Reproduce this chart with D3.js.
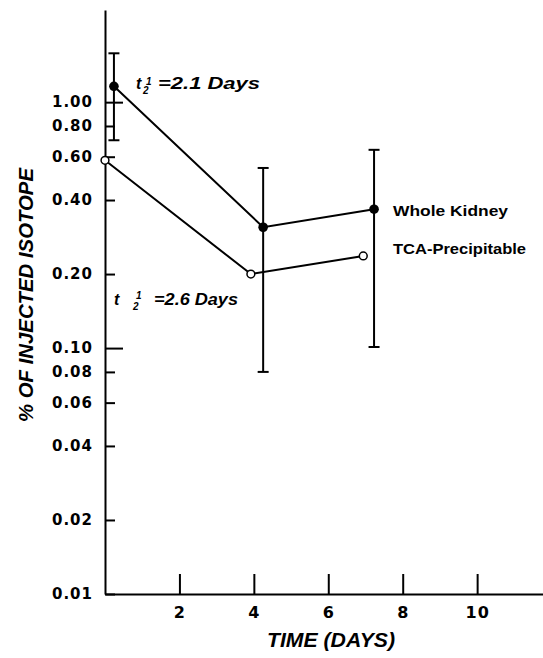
<!DOCTYPE html>
<html>
<head>
<meta charset="utf-8">
<script src="https://cdn.jsdelivr.net/npm/d3@7"></script>
<style>
  html, body { margin: 0; padding: 0; background: #fff; }
  svg { display: block; }
</style>
</head>
<body>
<svg id="chart" width="543" height="658"></svg>
<script>
// ---- data ----
const wholeKidneyDays   = [0.24, 4.25, 7.23];
const wholeKidneyValues = [1.16, 0.31, 0.367];
const wholeKidneyErrHi  = [1.58, 0.54, 0.64];
const wholeKidneyErrLo  = [0.70, 0.080, 0.101];

const tcaDays   = [0, 3.92, 6.94];
const tcaValues = [0.58, 0.20, 0.237];

const seriesNames = ["Whole Kidney", "TCA-Precipitable"];

const yTickValues = [0.01, 0.02, 0.04, 0.06, 0.08, 0.1, 0.2, 0.4, 0.6, 0.8, 1.0];
const yTickLabels = ["0.01", "0.02", "0.04", "0.06", "0.08", "0.10", "0.20", "0.40", "0.60", "0.80", "1.00"];
const xTickValues = [2, 4, 6, 8, 10];
const xTickLabels = ["2", "4", "6", "8", "10"];

const halfLives = [
  {series: "Whole Kidney", text: "=2.1 Days"},
  {series: "TCA-Precipitable", text: "=2.6 Days"}
];

const yTitle = "% OF INJECTED ISOTOPE";
const xTitle = "TIME (DAYS)";

// ---- layout ----
const svg = d3.select("#chart");
const x = d3.scaleLinear().domain([0, 11.77]).range([105, 543]);
const y = d3.scaleLog().domain([0.01, 2.37]).range([594, 10]);

const numFont = "'DejaVu Sans', sans-serif";
const txtFont = "'Liberation Sans', Arial, sans-serif";

// y axis
const yAxis = d3.axisLeft(y)
  .tickValues(yTickValues)
  .tickFormat((d, i) => yTickLabels[i])
  .tickSizeInner(-10)
  .tickSizeOuter(0)
  .tickPadding(12);
const gy = svg.append("g").attr("transform", `translate(${x(0)},0)`).call(yAxis);
gy.select(".domain").attr("stroke", "#000").attr("stroke-width", 2);
gy.selectAll(".tick line")
  .attr("stroke", "#000").attr("stroke-width", 2)
  .attr("x2", d => (d === 0.1 || d === 1.0) ? 18 : 10);
gy.selectAll(".tick text")
  .attr("fill", "#000")
  .style("font-family", numFont)
  .style("font-weight", "bold")
  .style("font-size", "15px")
  .style("letter-spacing", "1px");

// x axis
const xAxis = d3.axisBottom(x)
  .tickValues(xTickValues)
  .tickFormat((d, i) => xTickLabels[i])
  .tickSizeInner(-20)
  .tickSizeOuter(0)
  .tickPadding(13);
const gx = svg.append("g").attr("transform", `translate(0,${y(0.01)})`).call(xAxis);
gx.select(".domain").attr("stroke", "#000").attr("stroke-width", 2);
gx.selectAll(".tick line").attr("stroke", "#000").attr("stroke-width", 2);
gx.selectAll(".tick text")
  .attr("fill", "#000")
  .style("font-family", numFont)
  .style("font-weight", "bold")
  .style("font-size", "16px")
  .style("letter-spacing", "1px");

// axis titles
svg.append("text")
  .attr("transform", "rotate(-90)")
  .attr("x", -295).attr("y", 33)
  .attr("text-anchor", "middle")
  .attr("textLength", 254).attr("lengthAdjust", "spacingAndGlyphs")
  .style("font-family", txtFont).style("font-weight", "bold").style("font-style", "italic")
  .style("font-size", "21px")
  .text(yTitle);

svg.append("text")
  .attr("x", 331).attr("y", 647)
  .attr("text-anchor", "middle")
  .attr("textLength", 128).attr("lengthAdjust", "spacingAndGlyphs")
  .style("font-family", txtFont).style("font-weight", "bold").style("font-style", "italic")
  .style("font-size", "21px")
  .text(xTitle);

// lines
const wk = wholeKidneyDays.map((d, i) => ({d, v: wholeKidneyValues[i], hi: wholeKidneyErrHi[i], lo: wholeKidneyErrLo[i]}));
const tca = tcaDays.map((d, i) => ({d, v: tcaValues[i]}));
const line = d3.line().x(p => x(p.d)).y(p => y(p.v));

svg.append("path").datum(wk).attr("d", line)
  .attr("fill", "none").attr("stroke", "#000").attr("stroke-width", 2);
svg.append("path").datum(tca).attr("d", line)
  .attr("fill", "none").attr("stroke", "#000").attr("stroke-width", 2);

// error bars
const eb = svg.append("g").attr("stroke", "#000").attr("stroke-width", 2);
eb.selectAll("line.v").data(wk).join("line").attr("class", "v")
  .attr("x1", p => x(p.d)).attr("x2", p => x(p.d))
  .attr("y1", p => y(p.hi)).attr("y2", p => y(p.lo));
eb.selectAll("line.ch").data(wk).join("line").attr("class", "ch")
  .attr("x1", p => x(p.d) - 5.5).attr("x2", p => x(p.d) + 5.5)
  .attr("y1", p => y(p.hi)).attr("y2", p => y(p.hi));
eb.selectAll("line.cl").data(wk).join("line").attr("class", "cl")
  .attr("x1", p => x(p.d) - 5.5).attr("x2", p => x(p.d) + 5.5)
  .attr("y1", p => y(p.lo)).attr("y2", p => y(p.lo));

// points
svg.append("g").selectAll("circle").data(wk).join("circle")
  .attr("cx", p => x(p.d)).attr("cy", p => y(p.v)).attr("r", 4.8)
  .attr("fill", "#000");
svg.append("g").selectAll("circle").data(tca).join("circle")
  .attr("cx", p => x(p.d)).attr("cy", p => y(p.v)).attr("r", 3.9)
  .attr("fill", "#fff").attr("stroke", "#000").attr("stroke-width", 1.5);

// series labels
const lab = [
  {t: seriesNames[0], x: 393, y: 216, w: 115},
  {t: seriesNames[1], x: 393, y: 254, w: 133}
];
svg.append("g").selectAll("text").data(lab).join("text")
  .attr("x", d => d.x).attr("y", d => d.y)
  .attr("textLength", d => d.w).attr("lengthAdjust", "spacingAndGlyphs")
  .style("font-family", txtFont).style("font-weight", "bold").style("font-size", "15px")
  .text(d => d.t);

// half-life annotations: "t" with a stacked 1/2, then "=x Days"
const annPos = [
  {tx: 136, by: 89, oneX: 146, oneY: 85, twoX: 143, twoY: 94, eqX: 158, w: 102},
  {tx: 114, by: 305, oneX: 136, oneY: 299, twoX: 133, twoY: 310, eqX: 154, w: 84}
];
halfLives.forEach((h, i) => {
  const p = annPos[i];
  const g = svg.append("g")
    .style("font-family", txtFont).style("font-weight", "bold").style("font-style", "italic");
  const t = g.append("text");
  t.append("tspan").attr("x", p.tx).attr("y", p.by).style("font-size", "16px").text("t");
  t.append("tspan").attr("x", p.oneX).attr("y", p.oneY).style("font-size", "10px").text("1");
  t.append("tspan").attr("x", p.twoX).attr("y", p.twoY).style("font-size", "10px").text("2");
  g.append("text").attr("x", p.eqX).attr("y", p.by)
    .attr("textLength", p.w).attr("lengthAdjust", "spacingAndGlyphs")
    .style("font-size", "16px").text(h.text);
});
</script>
</body>
</html>
